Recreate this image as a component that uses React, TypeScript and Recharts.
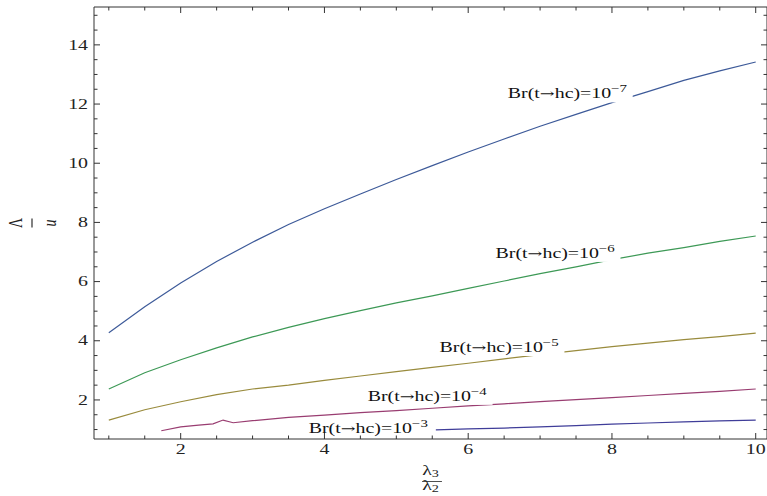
import { LineChart, Line, XAxis, YAxis, ReferenceDot } from 'recharts'

// lambda3/lambda2 grid shared by the upper three curves
const xGrid = [1, 1.5, 2, 2.5, 3, 3.5, 4, 4.5, 5, 5.5, 6, 6.5, 7, 7.5, 8, 8.5, 9, 9.5, 10]

const br7 = [4.27, 5.15, 5.95, 6.68, 7.33, 7.93, 8.46, 8.96, 9.45, 9.92, 10.38, 10.82, 11.25, 11.65, 12.05, 12.42, 12.8, 13.12, 13.42]
const br6 = [2.37, 2.92, 3.36, 3.76, 4.13, 4.45, 4.75, 5.02, 5.28, 5.52, 5.77, 6.02, 6.27, 6.5, 6.74, 6.96, 7.15, 7.36, 7.54]
const br5 = [1.32, 1.67, 1.94, 2.18, 2.37, 2.5, 2.66, 2.81, 2.96, 3.1, 3.24, 3.39, 3.53, 3.67, 3.8, 3.92, 4.04, 4.14, 4.26]

const x4 = [1.73, 2, 2.25, 2.45, 2.59, 2.73, 3, 3.5, 4, 4.5, 5, 5.5, 6, 6.5, 7, 7.5, 8, 8.5, 9, 9.5, 10]
const br4 = [0.96, 1.09, 1.15, 1.19, 1.32, 1.23, 1.3, 1.41, 1.49, 1.57, 1.64, 1.72, 1.8, 1.87, 1.94, 2.01, 2.08, 2.15, 2.22, 2.29, 2.37]

const x3 = [5.55, 6, 6.5, 7, 7.5, 8, 8.5, 9, 9.5, 10]
const br3 = [0.99, 1.02, 1.05, 1.09, 1.13, 1.18, 1.22, 1.26, 1.29, 1.32]

// curve labels: exponent, anchor (baseline centre) in data units
const labelExp = ['7', '6', '5', '4', '3']
const labelX = [7.38, 7.21, 6.43, 5.43, 4.61]
const labelY = [12.19, 6.8, 3.62, 1.97, 0.884]

const xTicks = [1, 1.5, 2, 2.5, 3, 3.5, 4, 4.5, 5, 5.5, 6, 6.5, 7, 7.5, 8, 8.5, 9, 9.5, 10]
const yTicks = [1, 1.5, 2, 2.5, 3, 3.5, 4, 4.5, 5, 5.5, 6, 6.5, 7, 7.5, 8, 8.5, 9, 9.5, 10, 10.5, 11, 11.5, 12, 12.5, 13, 13.5, 14, 14.5, 15]

const COLORS = ['#3d5a99', '#3d9956', '#998b3d', '#993d71', '#3f3d99']
const FRAME = '#333'
const FONT = '"Liberation Serif", "Times New Roman", serif'
const SX = 1.42 // the original is stretched horizontally

const toRows = (xs: number[], ys: number[]) => xs.map((x, i) => ({ x, y: ys[i] }))
const series = [
  toRows(xGrid, br7),
  toRows(xGrid, br6),
  toRows(xGrid, br5),
  toRows(x4, br4),
  toRows(x3, br3),
]

const isMajor = (v: number) => v % 2 === 0

function BottomTick({ x, y, payload }: any) {
  const major = isMajor(payload.value)
  return (
    <g>
      <line x1={x} x2={x} y1={y} y2={y - (major ? 6 : 3.5)} stroke={FRAME} />
      {major && (
        <text
          transform={`translate(${x},${y + 14.5}) scale(${SX},1)`}
          textAnchor="middle"
          fontFamily={FONT}
          fontSize={14}
          fill="#222"
        >
          {payload.value}
        </text>
      )}
    </g>
  )
}

function TopTick({ x, y, payload }: any) {
  const major = isMajor(payload.value)
  return <line x1={x} x2={x} y1={y} y2={y + (major ? 6 : 3.5)} stroke={FRAME} />
}

function LeftTick({ x, y, payload }: any) {
  const major = isMajor(payload.value)
  return (
    <g>
      <line x1={x} x2={x + (major ? 6 : 3.5)} y1={y} y2={y} stroke={FRAME} />
      {major && (
        <text
          transform={`translate(${x - 6},${y + 4.7}) scale(${SX},1)`}
          textAnchor="end"
          fontFamily={FONT}
          fontSize={14}
          fill="#222"
        >
          {payload.value}
        </text>
      )}
    </g>
  )
}

function RightTick({ x, y, payload }: any) {
  const major = isMajor(payload.value)
  return <line x1={x} x2={x - (major ? 6 : 3.5)} y1={y} y2={y} stroke={FRAME} />
}

function CurveLabel({ cx, cy, exp }: any) {
  return (
    <g transform={`translate(${cx},${cy}) scale(${SX},1)`}>
      <rect x={-46} y={-15} width={92} height={19} fill="#fff" />
      <text textAnchor="middle" fontFamily={FONT} fontSize={14} fill="#111">
        Br(t
        <tspan fontFamily='"DejaVu Serif", serif' fontSize={12.5}>→</tspan>
        hc)=10
        <tspan dy={-6} fontSize={10.5}>
          −{exp}
        </tspan>
      </text>
    </g>
  )
}

const axisCommon = {
  allowDataOverflow: true,
  interval: 0 as const,
  tickSize: 0,
  tickMargin: 0,
  stroke: FRAME,
}

export default function App() {
  return (
    <div style={{ position: 'absolute', left: 0, top: 0, width: 767, height: 496, overflow: 'hidden', background: '#fff' }}>
      <LineChart width={768} height={496} margin={{ top: 6, right: 0, bottom: 56, left: 93 }}>
        <XAxis
          xAxisId="b"
          type="number"
          dataKey="x"
          domain={[0.794, 10.157]}
          ticks={xTicks}
          height={1}
          tick={<BottomTick />}
          {...axisCommon}
        />
        <XAxis
          xAxisId="t"
          orientation="top"
          type="number"
          dataKey="x"
          domain={[0.794, 10.157]}
          ticks={xTicks}
          height={1}
          tick={<TopTick />}
          {...axisCommon}
        />
        <YAxis
          yAxisId="l"
          type="number"
          domain={[0.68, 15.28]}
          ticks={yTicks}
          width={1}
          tick={<LeftTick />}
          {...axisCommon}
        />
        <YAxis
          yAxisId="r"
          orientation="right"
          type="number"
          domain={[0.68, 15.28]}
          ticks={yTicks}
          width={1}
          tick={<RightTick />}
          {...axisCommon}
        />
        {series.map((d, i) => (
          <Line
            key={i}
            xAxisId="b"
            yAxisId="l"
            data={d}
            dataKey="y"
            type="linear"
            stroke={COLORS[i]}
            strokeWidth={1.2}
            dot={false}
            isAnimationActive={false}
          />
        ))}
        {labelExp.map((e, i) => (
          <ReferenceDot
            key={e}
            xAxisId="b"
            yAxisId="l"
            x={labelX[i]}
            y={labelY[i]}
            r={0}
            ifOverflow="visible"
            shape={(p: any) => <CurveLabel cx={p.cx} cy={p.cy} exp={e} />}
          />
        ))}
      </LineChart>
      {/* axis titles */}
      <svg width={767} height={496} style={{ position: 'absolute', left: 0, top: 0, pointerEvents: 'none' }}>
        <g fontFamily={FONT} fill="#222">
          <g transform={`translate(432,0) scale(${SX},1)`}>
            <text x={-1} y={475} textAnchor="middle" fontSize={14}>
              λ<tspan dy={2.5} fontSize={10}>3</tspan>
            </text>
            <line x1={-7} x2={7} y1={481.5} y2={481.5} stroke="#222" strokeWidth={0.8} />
            <text x={-1} y={490} textAnchor="middle" fontSize={14}>
              λ<tspan dy={2.5} fontSize={10}>2</tspan>
            </text>
          </g>
          <g transform={`translate(32,223) scale(${SX},1) rotate(-90)`}>
            <text x={0} y={-6.7} textAnchor="middle" fontSize={14}>Λ</text>
            <line x1={-4.5} x2={4.5} y1={0} y2={0} stroke="#222" strokeWidth={0.8} />
            <text x={0} y={16.6} textAnchor="middle" fontSize={14} fontStyle="italic">u</text>
          </g>
        </g>
      </svg>
    </div>
  )
}
